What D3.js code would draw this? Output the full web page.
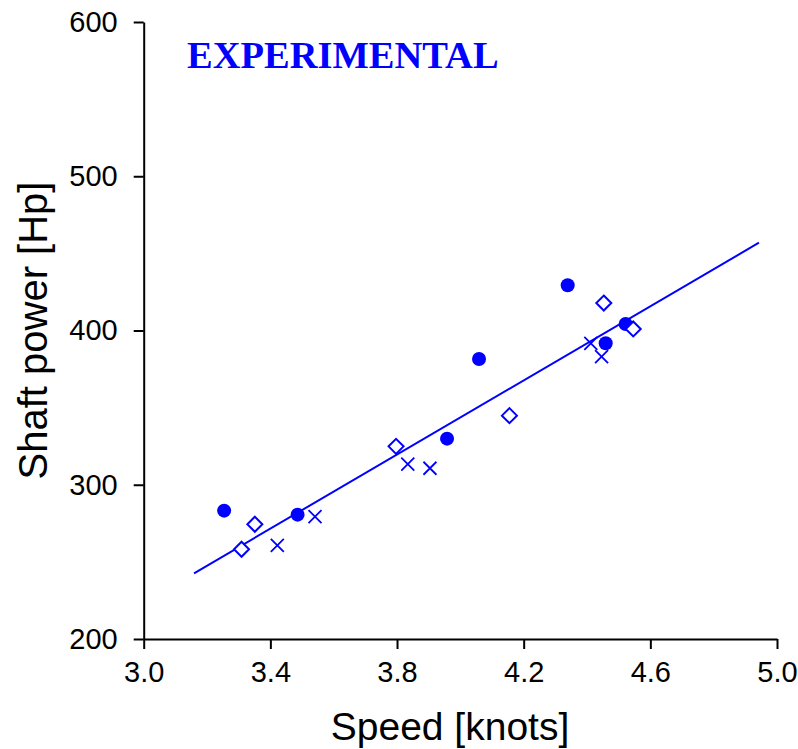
<!DOCTYPE html>
<html>
<head>
<meta charset="utf-8">
<script src="https://cdn.jsdelivr.net/npm/d3@7"></script>
<style>
  html, body { margin: 0; padding: 0; background: #fff; }
  svg { display: block; }
</style>
</head>
<body>
<div id="chart"></div>
<script>
// valores
const circleSpeed = [3.254, 3.486, 3.958, 4.059, 4.339, 4.459, 4.522]
const circlePower = [283.2, 280.6, 329.9, 381.5, 429.3, 391.7, 404.2]

const diamondSpeed = [3.309, 3.351, 3.797, 4.155, 4.453, 4.546]
const diamondPower = [258.2, 274.4, 324.9, 344.8, 417.8, 401.0]

const crossSpeed = [3.422, 3.541, 3.834, 3.904, 4.412, 4.446]
const crossPower = [260.7, 279.3, 313.3, 310.7, 391.7, 383.0]

// linea de tendencia (extremos)
const trendSpeed = [3.159, 4.943]
const trendPower = [242.6, 456.9]

const xTicks = [3.0, 3.4, 3.8, 4.2, 4.6, 5.0]
const yTicks = [200, 300, 400, 500, 600]

const width = 798
const height = 749
const blue = "#0000ff"

const svg = d3.select("#chart")
  .append("svg")
  .attr("width", width)
  .attr("height", height)

const x = d3.scaleLinear().domain([3, 5]).range([143.7, 777])
const y = d3.scaleLinear().domain([200, 600]).range([639, 22])

const zip = (a, b) => a.map((v, i) => ({ s: v, p: b[i] }))

// Ejes
const xAxis = svg.append("g")
  .attr("transform", `translate(0,${y(200)})`)
  .call(d3.axisBottom(x).tickValues(xTicks).tickFormat(d3.format(".1f")).tickSize(10).tickSizeOuter(0).tickPadding(12))
xAxis.select(".domain").attr("stroke", "#000").attr("stroke-width", 2)
xAxis.selectAll(".tick line").attr("stroke", "#000").attr("stroke-width", 2)
xAxis.selectAll(".tick text")
  .attr("font-family", "'Liberation Sans', Arial, sans-serif")
  .attr("font-size", 29)
  .attr("fill", "#000")

const yAxis = svg.append("g")
  .attr("transform", `translate(${x(3)},0)`)
  .call(d3.axisLeft(y).tickValues(yTicks).tickFormat(d3.format("d")).tickSize(10).tickSizeOuter(0).tickPadding(16))
yAxis.select(".domain").attr("stroke", "#000").attr("stroke-width", 2)
yAxis.selectAll(".tick line").attr("stroke", "#000").attr("stroke-width", 2)
yAxis.selectAll(".tick text")
  .attr("font-family", "'Liberation Sans', Arial, sans-serif")
  .attr("font-size", 29)
  .attr("fill", "#000")

// Titulos de ejes
svg.append("text")
  .attr("x", 450)
  .attr("y", 740)
  .attr("text-anchor", "middle")
  .attr("font-family", "'Liberation Sans', Arial, sans-serif")
  .attr("font-size", 39)
  .text("Speed [knots]")

svg.append("text")
  .attr("transform", `translate(47,${(y(200) + y(600)) / 2}) rotate(-90)`)
  .attr("text-anchor", "middle")
  .attr("font-family", "'Liberation Sans', Arial, sans-serif")
  .attr("font-size", 40)
  .text("Shaft power [Hp]")

svg.append("text")
  .attr("x", 187)
  .attr("y", 68)
  .attr("font-family", "'Liberation Serif', 'Times New Roman', serif")
  .attr("font-weight", "bold")
  .attr("font-size", 38.5)
  .attr("fill", blue)
  .text("EXPERIMENTAL")

// Linea de tendencia
const line = d3.line().x(d => x(d.s)).y(d => y(d.p))
svg.append("path")
  .datum(zip(trendSpeed, trendPower))
  .attr("fill", "none")
  .attr("stroke", blue)
  .attr("stroke-width", 2)
  .attr("d", line)

// Circulos rellenos
svg.append("g").selectAll("circle")
  .data(zip(circleSpeed, circlePower))
  .join("circle")
  .attr("cx", d => x(d.s))
  .attr("cy", d => y(d.p))
  .attr("r", 7)
  .attr("fill", blue)

// Rombos
const dsz = 7.5
svg.append("g").selectAll("path")
  .data(zip(diamondSpeed, diamondPower))
  .join("path")
  .attr("transform", d => `translate(${x(d.s)},${y(d.p)})`)
  .attr("d", `M0,${-dsz}L${dsz},0L0,${dsz}L${-dsz},0Z`)
  .attr("fill", "#fff")
  .attr("stroke", blue)
  .attr("stroke-width", 2)

// Cruces
const csz = 6.5
svg.append("g").selectAll("path")
  .data(zip(crossSpeed, crossPower))
  .join("path")
  .attr("transform", d => `translate(${x(d.s)},${y(d.p)})`)
  .attr("d", `M${-csz},${-csz}L${csz},${csz}M${-csz},${csz}L${csz},${-csz}`)
  .attr("fill", "none")
  .attr("stroke", blue)
  .attr("stroke-width", 1.8)
</script>
</body>
</html>
